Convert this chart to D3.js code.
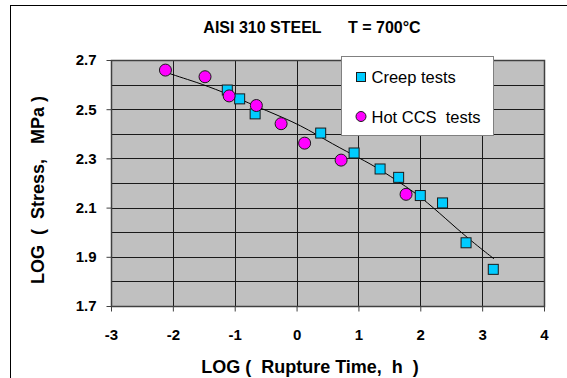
<!DOCTYPE html>
<html>
<head>
<meta charset="utf-8">
<script src="https://cdn.jsdelivr.net/npm/d3@7"></script>
<style>
  html, body { margin: 0; padding: 0; background: #fff; }
  svg { display: block; font-family: Arial, "Liberation Sans", sans-serif; }
</style>
</head>
<body>
<svg id="chart" width="567" height="378"></svg>
<script>
// Creep tests (log rupture time, log stress)
const creepLogTime   = [-1.12, -0.92, -0.67, 0.39, 0.93, 1.35, 1.65, 2.00, 2.36, 2.74, 3.18];
const creepLogStress = [2.578, 2.542, 2.481, 2.403, 2.322, 2.257, 2.223, 2.149, 2.119, 1.957, 1.849];

// Hot CCS tests
const ccsLogTime   = [-2.12, -1.48, -1.09, -0.65, -0.25, 0.13, 0.72, 1.77];
const ccsLogStress = [2.659, 2.632, 2.554, 2.515, 2.441, 2.362, 2.293, 2.154];

// Fitted trend curve through both data sets
const trendLogTime   = [-2.10, -1.83, -1.56, -1.07, -0.48, 0.06, 0.60, 1.03, 1.35, 1.68, 2.00, 2.43, 2.76, 3.19];
const trendLogStress = [2.649, 2.626, 2.605, 2.558, 2.493, 2.437, 2.355, 2.300, 2.255, 2.200, 2.146, 2.051, 1.977, 1.892];

const xTicks = [-3, -2, -1, 0, 1, 2, 3, 4];
const yTicks = [1.7, 1.9, 2.1, 2.3, 2.5, 2.7];
const yGrid  = [1.7, 1.8, 1.9, 2.0, 2.1, 2.2, 2.3, 2.4, 2.5, 2.6, 2.7];

const chartTitle = "AISI 310 STEEL      T = 700°C";
const xTitle = "LOG (  Rupture Time,  h  )";
const yTitle = "LOG  (  Stress,   MPa )";
const legendLabels = ["Creep tests", "Hot CCS  tests"];

const svg = d3.select("#chart");
const plot = { left: 111, right: 544, top: 60, bottom: 306 };

const x = d3.scaleLinear().domain([-3, 4]).range([plot.left, plot.right]);
const y = d3.scaleLinear().domain([1.7, 2.7]).range([plot.bottom, plot.top]);

// outer chart frame
svg.append("rect")
  .attr("x", 10.5).attr("y", 5.5).attr("width", 620).attr("height", 420)
  .attr("fill", "#fff").attr("stroke", "#000").attr("stroke-width", 1);

// plot background
svg.append("rect")
  .attr("x", plot.left).attr("y", plot.top)
  .attr("width", plot.right - plot.left).attr("height", plot.bottom - plot.top)
  .attr("fill", "#c0c0c0");

// gridlines
const grid = svg.append("g").attr("stroke", "#1a1a1a").attr("stroke-width", 1);
grid.selectAll("line.h").data(yGrid).join("line").attr("class", "h")
  .attr("x1", plot.left).attr("x2", plot.right)
  .attr("y1", d => Math.round(y(d)) + 0.5).attr("y2", d => Math.round(y(d)) + 0.5);
grid.selectAll("line.v").data(xTicks).join("line").attr("class", "v")
  .attr("y1", plot.top).attr("y2", plot.bottom)
  .attr("x1", d => Math.round(x(d)) + 0.5).attr("x2", d => Math.round(x(d)) + 0.5);

// plot border
svg.append("rect")
  .attr("x", plot.left + 0.5).attr("y", plot.top + 0.5)
  .attr("width", plot.right - plot.left).attr("height", plot.bottom - plot.top)
  .attr("fill", "none").attr("stroke", "#404040").attr("stroke-width", 1.5);

// axes
const yAxis = svg.append("g")
  .attr("transform", `translate(${plot.left + 0.5},0)`)
  .call(d3.axisLeft(y).tickValues(yTicks).tickFormat(d3.format(".1f")).tickSize(5).tickPadding(10));
const xAxis = svg.append("g")
  .attr("transform", `translate(0,${plot.bottom + 0.5})`)
  .call(d3.axisBottom(x).tickValues(xTicks).tickFormat(d3.format("d")).tickSize(5).tickPadding(18));
[yAxis, xAxis].forEach(a => {
  a.select(".domain").remove();
  a.selectAll(".tick line").attr("stroke", "#404040");
  a.selectAll(".tick text")
    .attr("fill", "#000").style("font-size", "15px").style("font-weight", "bold")
    .style("font-family", "Arial, 'Liberation Sans', sans-serif");
});
xAxis.selectAll(".tick text").text(d => d < 0 ? "-" + Math.abs(d) : d);

// trend curve
const trend = trendLogTime.map((t, i) => [t, trendLogStress[i]]);
svg.append("path")
  .datum(trend)
  .attr("fill", "none").attr("stroke", "#000").attr("stroke-width", 1)
  .attr("d", d3.line().x(d => x(d[0])).y(d => y(d[1])).curve(d3.curveBasis));

// creep tests: squares
const sq = 10;
svg.append("g").selectAll("rect")
  .data(creepLogTime.map((t, i) => [t, creepLogStress[i]]))
  .join("rect")
  .attr("x", d => x(d[0]) - sq / 2).attr("y", d => y(d[1]) - sq / 2)
  .attr("width", sq).attr("height", sq)
  .attr("fill", "#00ccff").attr("stroke", "#1a1a1a").attr("stroke-width", 1);

// hot CCS tests: circles
svg.append("g").selectAll("circle")
  .data(ccsLogTime.map((t, i) => [t, ccsLogStress[i]]))
  .join("circle")
  .attr("cx", d => x(d[0])).attr("cy", d => y(d[1])).attr("r", 6)
  .attr("fill", "#ff00ff").attr("stroke", "#1a1a1a").attr("stroke-width", 1);

// title
svg.append("text")
  .attr("x", 312).attr("y", 33)
  .attr("text-anchor", "middle")
  .style("font-size", "16px").style("font-weight", "bold").style("white-space", "pre")
  .text(chartTitle);

// axis titles
svg.append("text")
  .attr("x", 310).attr("y", 373)
  .attr("text-anchor", "middle")
  .style("font-size", "18px").style("font-weight", "bold").style("white-space", "pre")
  .text(xTitle);
svg.append("text")
  .attr("transform", "translate(44,190) rotate(-90)")
  .attr("text-anchor", "middle")
  .style("font-size", "18px").style("font-weight", "bold").style("white-space", "pre")
  .text(yTitle);

// legend
const lg = svg.append("g");
lg.append("rect")
  .attr("x", 341.5).attr("y", 56.5).attr("width", 152).attr("height", 79)
  .attr("fill", "#fff").attr("stroke", "#808080").attr("stroke-width", 1);
lg.append("rect")
  .attr("x", 356.5).attr("y", 72.5).attr("width", 9).attr("height", 9)
  .attr("fill", "#00ccff").attr("stroke", "#1a1a1a");
lg.append("circle")
  .attr("cx", 361).attr("cy", 116.5).attr("r", 5)
  .attr("fill", "#ff00ff").attr("stroke", "#1a1a1a");
lg.selectAll("text").data(legendLabels).join("text")
  .attr("x", 371.5).attr("y", (d, i) => i === 0 ? 82.5 : 122.5)
  .style("font-size", "16.5px").style("white-space", "pre")
  .text(d => d);
</script>
</body>
</html>
